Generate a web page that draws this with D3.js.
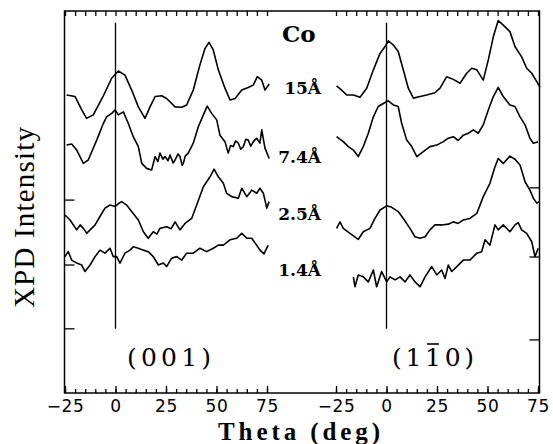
<!DOCTYPE html>
<html>
<head>
<meta charset="utf-8">
<script src="https://cdn.jsdelivr.net/npm/d3@7"></script>
<style>
  body { margin: 0; background: #fff; }
  svg { display: block; }
</style>
</head>
<body>
<div id="chart"></div>
<script>
// XPD intensity vs theta, Co films on (001) and (1-10) faces
// theta in deg, intensity in arbitrary units (curves stacked)
const thetaTicks = [-25, 0, 25, 50, 75];
const thicknessLabels = ["15Å", "7.4Å", "2.5Å", "1.4Å"];

// --- (001) panel ---
const L15 = [[-24.2,78.0],[-20.0,77.6],[-16.7,74.1],[-14.3,71.9],[-11.0,72.8],[-6.2,77.6],[-1.9,82.4],[1.4,84.3],[4.7,83.2],[8.0,79.3],[11.3,74.9],[14.6,71.9],[17.1,74.9],[19.6,77.6],[22.9,77.8],[25.3,77.1],[29.5,74.9],[32.8,74.8],[35.2,75.4],[38.5,79.3],[41.8,85.9],[44.3,90.2],[46.3,91.8],[48.4,89.8],[50.9,84.6],[54.2,79.8],[56.7,76.7],[59.2,77.1],[62.5,79.3],[65.7,80.0],[68.2,80.6],[70.2,82.8],[72.4,81.9],[74.0,79.3],[76.1,80.9]];
const L74 = [[-24.2,64.9],[-21.7,65.2],[-19.2,63.6],[-15.9,60.1],[-13.5,61.0],[-9.3,66.2],[-6.0,70.6],[-4.4,72.3],[-1.9,73.2],[-0.2,74.1],[1.4,72.8],[3.9,73.6],[6.3,70.6],[8.8,67.1],[11.3,64.5],[13.0,60.1],[15.4,58.8],[17.9,58.4],[19.6,61.9],[21.0,60.6],[22.0,62.8],[23.5,61.2],[24.5,61.9],[26.0,60.8],[27.0,62.3],[28.5,60.2],[29.5,61.0],[31.0,62.6],[31.9,61.9],[33.0,59.6],[33.6,60.1],[34.5,62.0],[36.0,62.8],[38.5,65.4],[41.0,69.7],[43.5,72.8],[45.4,75.1],[47.6,73.2],[50.1,71.5],[51.7,67.5],[54.2,65.8],[55.8,62.8],[57.0,64.8],[58.3,64.5],[59.5,66.0],[60.8,65.4],[62.0,63.8],[63.3,64.5],[64.5,66.4],[65.7,66.2],[67.0,64.6],[68.2,65.8],[69.9,66.7],[71.5,65.4],[72.4,68.9],[74.0,64.1],[76.1,61.4]];
const L25 = [[-25.0,46.6],[-22.5,45.3],[-19.2,42.7],[-17.5,44.0],[-15.9,43.1],[-14.2,41.8],[-12.6,42.7],[-10.1,44.0],[-7.7,46.2],[-5.2,48.4],[-2.7,49.2],[-0.2,48.8],[1.5,49.6],[3.1,50.1],[5.5,49.2],[8.0,47.5],[11.3,45.3],[13.8,42.2],[16.2,40.5],[18.7,42.2],[20.5,41.6],[22.0,43.1],[25.3,43.5],[27.5,43.0],[29.5,44.8],[31.9,42.7],[34.4,44.4],[37.7,45.7],[40.2,49.2],[43.5,54.0],[46.8,56.6],[48.8,58.6],[50.9,56.6],[53.4,54.9],[55.0,52.3],[57.5,51.4],[60.8,51.0],[62.5,53.6],[65.0,51.4],[67.4,53.1],[69.9,52.3],[71.5,53.6],[73.2,52.3],[74.9,48.4],[76.0,50.1]];
const L14 = [[-25.0,35.7],[-23.4,37.0],[-21.7,34.8],[-19.2,34.0],[-16.7,33.5],[-15.1,31.8],[-12.6,33.5],[-10.1,35.7],[-7.7,37.4],[-5.2,36.6],[-2.7,37.9],[-1.1,35.7],[0.6,35.7],[2.2,34.0],[4.7,36.6],[7.2,37.4],[8.8,38.3],[11.3,37.9],[13.8,37.4],[16.2,37.0],[18.7,35.7],[21.2,33.5],[23.7,34.0],[25.3,33.1],[27.8,35.3],[30.3,35.7],[32.8,34.8],[35.2,36.6],[38.5,36.6],[41.8,37.9],[45.1,37.0],[48.4,37.9],[50.9,38.7],[53.4,38.7],[56.7,40.1],[60.0,40.5],[62.5,41.8],[65.0,40.5],[67.4,40.5],[69.9,38.7],[71.5,37.4],[73.5,36.4],[75.6,38.7]];

// --- (1-10) panel ---
const R15 = [[-24.7,80.4],[-22.2,79.3],[-19.7,78.0],[-16.4,78.0],[-13.1,77.4],[-9.8,79.8],[-6.5,84.6],[-3.2,88.9],[-0.7,90.7],[0.9,92.2],[3.4,91.1],[5.8,89.4],[8.3,84.6],[10.8,79.8],[13.3,77.2],[16.6,77.6],[19.9,78.0],[24.0,78.6],[26.5,79.8],[29.8,82.8],[33.1,82.1],[36.4,81.1],[39.7,83.7],[42.2,85.0],[44.7,84.6],[47.9,81.9],[50.4,87.2],[52.9,93.3],[55.3,97.5],[57.8,96.3],[61.1,94.6],[63.6,90.7],[66.9,88.0],[69.4,85.0],[71.9,83.7],[74.4,81.5],[76.0,80.0]];
const R74 = [[-24.7,67.1],[-21.4,65.8],[-18.9,64.5],[-16.4,63.6],[-14.0,61.9],[-11.5,64.5],[-9.0,68.0],[-6.5,72.3],[-4.1,75.0],[-1.6,75.8],[0.9,76.5],[3.4,75.4],[5.8,75.0],[7.5,70.6],[10.0,66.2],[12.5,64.5],[15.0,61.9],[18.2,63.2],[21.5,64.5],[24.9,64.9],[28.1,65.8],[30.6,66.7],[33.1,67.1],[35.5,66.1],[38.0,67.5],[40.5,68.0],[43.0,68.9],[45.4,68.0],[47.9,70.2],[50.4,74.1],[52.9,77.6],[55.3,80.0],[57.8,77.6],[61.1,75.4],[63.6,75.0],[66.1,72.3],[68.6,70.2],[71.0,66.7],[72.7,65.4],[75.1,65.8]];
const R25 = [[-24.7,43.1],[-23.0,44.8],[-21.4,43.1],[-18.1,41.8],[-14.0,40.2],[-11.5,42.2],[-8.2,43.1],[-5.7,45.7],[-3.2,47.9],[0.1,49.0],[2.6,48.6],[5.8,47.5],[8.3,45.7],[11.6,43.1],[14.1,40.9],[16.6,40.5],[19.1,40.9],[21.5,42.7],[24.0,44.0],[27.3,44.0],[30.6,44.2],[33.1,44.8],[35.5,44.4],[38.0,45.3],[41.3,45.7],[44.7,47.0],[47.9,51.4],[51.2,54.9],[53.7,59.2],[55.3,61.4],[57.8,60.1],[61.1,62.0],[63.6,61.2],[66.1,59.7],[68.6,55.3],[71.0,53.1],[72.7,51.0],[74.4,49.7],[75.6,50.1]];
const R14 = [[-16.4,30.4],[-15.6,27.8],[-14.0,30.9],[-11.5,30.4],[-9.0,29.1],[-6.5,32.2],[-4.9,27.8],[-2.4,31.8],[0.1,29.1],[1.7,30.4],[4.2,29.6],[6.7,30.4],[9.2,29.1],[11.6,30.9],[14.1,29.1],[16.6,27.8],[19.1,30.4],[22.4,33.1],[24.9,30.9],[27.3,32.2],[29.0,30.0],[30.6,33.5],[32.3,31.8],[34.8,33.1],[38.0,34.8],[41.3,34.8],[44.7,36.6],[47.1,37.0],[48.8,40.1],[51.2,38.7],[53.7,44.0],[55.3,42.7],[57.8,44.0],[61.1,42.2],[63.6,44.0],[65.2,44.6],[66.9,42.7],[69.4,41.8],[71.9,39.6],[73.5,35.7],[75.1,37.9]];

// reference line at theta = 0 and y-axis marks
const zeroLine = [16.8, 96.9];
const leftMarks = [50.5, 33.5, 16.8];
const rightMarks = [53.7, 35.6, 13.9];

const W = 553, H = 444;
const frame = { left: 64.5, right: 539.5, top: 11, bottom: 393 };

const svg = d3.select("#chart").append("svg")
  .attr("width", W).attr("height", H)
  .style("background", "#fff");

const xL = d3.scaleLinear().domain([-25, 75]).range([65, 267]);
const xR = d3.scaleLinear().domain([-25, 75]).range([336, 538]);
const y = d3.scaleLinear().domain([0, 100]).range([frame.bottom, frame.top]);

// frame
svg.append("rect")
  .attr("x", frame.left).attr("y", frame.top)
  .attr("width", frame.right - frame.left)
  .attr("height", frame.bottom - frame.top)
  .attr("fill", "none").attr("stroke", "#000").attr("stroke-width", 1.5);

const minor = d3.range(-25, 76, 5);

[xL, xR].forEach(x => {
  // bottom: minor + major ticks, labels
  svg.append("g")
    .attr("transform", `translate(0,${frame.bottom})`)
    .call(d3.axisBottom(x).tickValues(minor).tickSize(-4))
    .call(g => g.select(".domain").remove())
    .call(g => g.selectAll("text").remove());
  const bx = svg.append("g")
    .attr("transform", `translate(0,${frame.bottom})`)
    .call(d3.axisBottom(x).tickValues(thetaTicks).tickSizeInner(-7).tickSizeOuter(0).tickPadding(7));
  bx.select(".domain").remove();
  bx.selectAll("text")
    .attr("font-family", "DejaVu Sans, sans-serif")
    .attr("font-size", 17)
    .attr("letter-spacing", 0.6)
    .attr("fill", "#000");
  // top ticks
  svg.append("g")
    .attr("transform", `translate(0,${frame.top})`)
    .call(d3.axisTop(x).tickValues(minor).tickSize(-5))
    .call(g => g.select(".domain").remove())
    .call(g => g.selectAll("text").remove());
});
svg.selectAll(".tick line").attr("stroke", "#000").attr("stroke-width", 1.3);

// y-axis marks
svg.selectAll("line.lmark").data(leftMarks).enter().append("line")
  .attr("class", "lmark")
  .attr("x1", frame.left).attr("x2", frame.left + 10)
  .attr("y1", d => y(d)).attr("y2", d => y(d))
  .attr("stroke", "#000").attr("stroke-width", 1.3);
svg.selectAll("line.rmark").data(rightMarks).enter().append("line")
  .attr("class", "rmark")
  .attr("x1", frame.right - 10).attr("x2", frame.right)
  .attr("y1", d => y(d)).attr("y2", d => y(d))
  .attr("stroke", "#000").attr("stroke-width", 1.3);

// zero lines
[xL, xR].forEach(x => {
  svg.append("line")
    .attr("x1", x(0)).attr("x2", x(0))
    .attr("y1", y(zeroLine[0])).attr("y2", y(zeroLine[1]))
    .attr("stroke", "#000").attr("stroke-width", 1.3);
});

// curves
const series = [
  { x: xL, data: L15 }, { x: xL, data: L74 }, { x: xL, data: L25 }, { x: xL, data: L14 },
  { x: xR, data: R15 }, { x: xR, data: R74 }, { x: xR, data: R25 }, { x: xR, data: R14 }
];
series.forEach(s => {
  const line = d3.line().x(d => s.x(d[0])).y(d => y(d[1]));
  svg.append("path")
    .datum(s.data)
    .attr("fill", "none")
    .attr("stroke", "#000")
    .attr("stroke-width", 1.6)
    .attr("stroke-linejoin", "round")
    .attr("d", line);
});

// labels
svg.append("text")
  .attr("x", 282).attr("y", 42)
  .attr("font-family", "DejaVu Serif, serif").attr("font-weight", "bold")
  .attr("font-size", 23).text("Co");

const labelY = [94, 163, 220, 276];
thicknessLabels.forEach((t, i) => {
  svg.append("text")
    .attr("x", 321).attr("y", labelY[i])
    .attr("text-anchor", "end")
    .attr("font-family", "DejaVu Serif, serif").attr("font-weight", "bold")
    .attr("font-size", 17).text(t);
});

svg.append("text")
  .attr("x", 127).attr("y", 366)
  .attr("font-family", "DejaVu Serif, serif")
  .attr("font-size", 25)
  .attr("textLength", 84).attr("lengthAdjust", "spacing")
  .text("(001)");

const face = svg.append("text")
  .attr("x", 392).attr("y", 366)
  .attr("font-family", "DejaVu Serif, serif")
  .attr("font-size", 25)
  .attr("textLength", 82).attr("lengthAdjust", "spacing");
face.append("tspan").text("(1");
face.append("tspan").text("1");
face.append("tspan").text("0)");
const fn = face.node();
const s0 = fn.getStartPositionOfChar(2).x, s1 = fn.getEndPositionOfChar(2).x;
svg.append("line")
  .attr("x1", s0 + 2).attr("x2", s1 - 2)
  .attr("y1", 344).attr("y2", 344)
  .attr("stroke", "#000").attr("stroke-width", 1.6);

// axis titles
svg.append("text")
  .attr("x", 218).attr("y", 440)
  .attr("font-family", "Liberation Serif, serif").attr("font-weight", "bold")
  .attr("font-size", 25)
  .attr("textLength", 162).attr("lengthAdjust", "spacing")
  .text("Theta (deg)");

svg.append("text")
  .attr("transform", "translate(34,308) rotate(-90)")
  .attr("font-family", "Liberation Serif, serif")
  .attr("font-size", 29)
  .attr("textLength", 181).attr("lengthAdjust", "spacing")
  .text("XPD Intensity");
</script>
</body>
</html>
